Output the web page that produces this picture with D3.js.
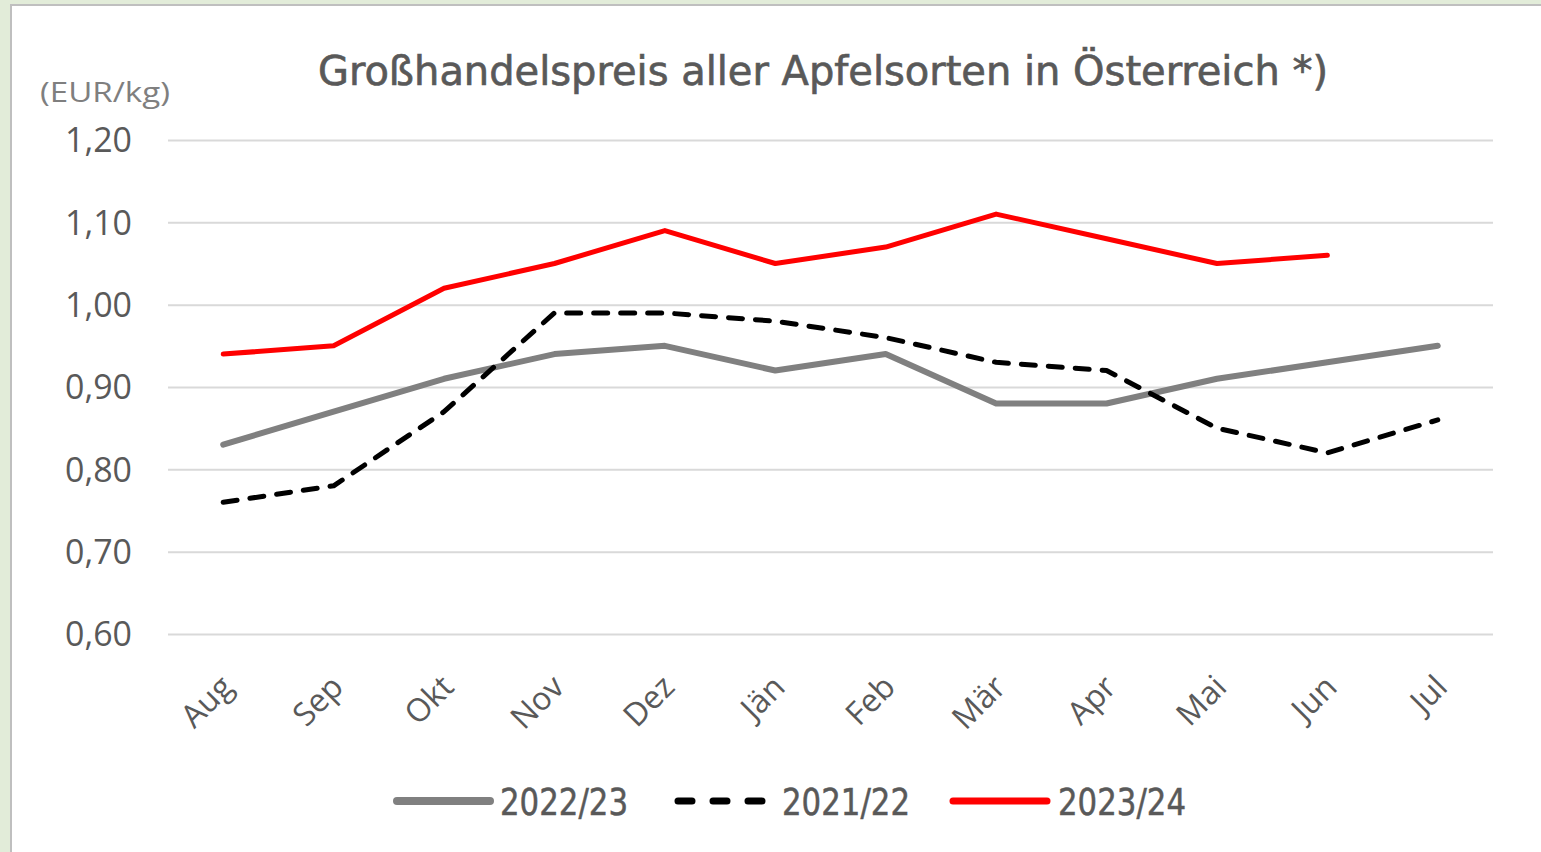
<!DOCTYPE html>
<html><head><meta charset="utf-8">
<script src="https://cdn.jsdelivr.net/npm/d3@7"></script>
<style>html,body{margin:0;padding:0;background:#e2ecd9;overflow:hidden}</style>
</head><body>
<svg id="c" width="1541" height="852"></svg>
<script>
const months = ["Aug","Sep","Okt","Nov","Dez","Jän","Feb","Mär","Apr","Mai","Jun","Jul"];
const s2022 = [0.83,0.87,0.91,0.94,0.95,0.92,0.94,0.88,0.88,0.91,0.93,0.95];
const s2021 = [0.76,0.78,0.87,0.99,0.99,0.98,0.96,0.93,0.92,0.85,0.82,0.86];
const s2023 = [0.94,0.95,1.02,1.05,1.09,1.05,1.07,1.11,1.08,1.05,1.06,null];
const yTicks = [0.6,0.7,0.8,0.9,1.0,1.1,1.2];
const seriesNames = ["2022/23","2021/22","2023/24"];
const title = "Großhandelspreis aller Apfelsorten in Österreich *)";
const unit = "(EUR/kg)";

const svg = d3.select("#c");
svg.append("rect").attr("x",11).attr("y",5).attr("width",1600).attr("height",900)
  .attr("fill","#fff").attr("stroke","#bfbfbf").attr("stroke-width",2);

const L=168,R=1493,T=140,B=634;
const x = d3.scalePoint().domain(months).range([L,R]).padding(0.5);
const y = d3.scaleLinear().domain([0.6,1.2]).range([B,T]);

const fmt = v => d3.format(".2f")(v).replace(".",",");
const ya = svg.append("g").attr("transform",`translate(${L},0)`)
  .call(d3.axisLeft(y).tickValues(yTicks).tickSize(-(R-L)).tickPadding(36).tickFormat(fmt));
ya.select(".domain").remove();
ya.selectAll(".tick line").attr("stroke","#d9d9d9").attr("stroke-width",2);
ya.selectAll(".tick text").attr("fill","#595959").attr("font-family","Open Sans").attr("font-size",34)
  .attr("dy","0.35em").attr("textLength",67).attr("lengthAdjust","spacingAndGlyphs");

const xa = svg.append("g").attr("transform",`translate(0,${B})`)
  .call(d3.axisBottom(x).tickSize(0).tickPadding(0));
xa.select(".domain").remove();
xa.selectAll(".tick text").attr("fill","#595959").attr("font-family","Open Sans").attr("font-size",32)
  .attr("text-anchor","end").attr("dy",0).attr("y",0)
  .attr("transform","translate(11,55) rotate(-45)");

const line = d3.line().defined(d=>d!=null).x((d,i)=>x(months[i])).y(d=>y(d));
const styles = [
  {data:s2022,color:"#808080",w:6,dash:null},
  {data:s2021,color:"#000000",w:5,dash:"14,13"},
  {data:s2023,color:"#ff0000",w:5,dash:null}
];
[0,1,2].forEach(k=>{
  const s=styles[k];
  svg.append("path").datum(s.data).attr("d",line).attr("fill","none")
    .attr("stroke",s.color).attr("stroke-width",s.w).attr("stroke-linejoin","round")
    .attr("stroke-linecap","round").attr("stroke-dasharray",s.dash);
});

svg.append("text").attr("x",823).attr("y",85).attr("text-anchor","middle")
  .attr("font-family","DejaVu Sans Condensed").attr("font-size",40).attr("fill","#595959")
  .attr("stroke","#595959").attr("stroke-width",0.6)
  .attr("textLength",1010).attr("lengthAdjust","spacingAndGlyphs").text(title);
svg.append("text").attr("x",40).attr("y",102)
  .attr("font-family","Open Sans").attr("font-size",28).attr("fill","#7f7f7f")
  .attr("textLength",130).attr("lengthAdjust","spacingAndGlyphs").text(unit);

const leg = [{x1:397,x2:490,tx:500},{x1:678,x2:764,tx:782},{x1:953,x2:1047,tx:1058}];
leg.forEach((p,k)=>{
  const s=styles[k];
  svg.append("line").attr("x1",p.x1).attr("x2",p.x2).attr("y1",801).attr("y2",801)
    .attr("stroke",s.color).attr("stroke-width",s.w+2).attr("stroke-linecap","round")
    .attr("stroke-dasharray",k===1?"14,21":null);
  svg.append("text").attr("x",p.tx).attr("y",815).attr("font-family","DejaVu Sans Condensed")
    .attr("font-size",38).attr("fill","#595959").attr("stroke","#595959").attr("stroke-width",0.5)
    .attr("textLength",128).attr("lengthAdjust","spacingAndGlyphs").text(seriesNames[k]);
});
</script>
</body></html>
